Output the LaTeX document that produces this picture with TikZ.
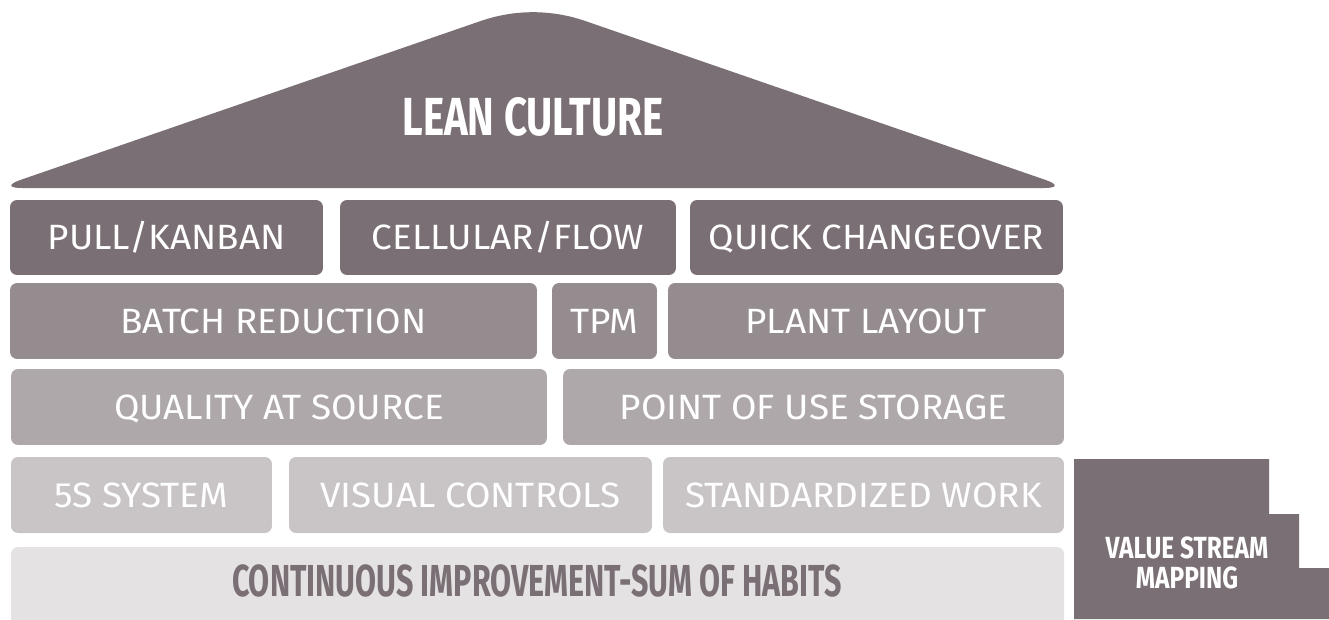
\documentclass[tikz,border=0pt]{standalone}
\usepackage{fontspec}
\setmainfont[FakeStretch=1.05]{Fira Sans}
\newfontfamily\headfont[FakeStretch=0.75]{Fira Sans}
\newfontfamily\stepfont[FakeStretch=0.8]{Fira Sans}
\newfontfamily\basefont[FakeStretch=0.68]{Fira Sans}
\definecolor{roofgray}{HTML}{7A6F74}
\definecolor{tiertwo}{HTML}{958C90}
\definecolor{tierthree}{HTML}{AEA8AA}
\definecolor{tierfour}{HTML}{C9C5C6}
\definecolor{tierbase}{HTML}{E4E2E3}
\begin{document}
\begin{tikzpicture}[
        x=0.02cm, y=-0.02cm,
        block/.style={rectangle, rounded corners=4pt, inner sep=0pt, text=white, minimum height=1.5cm,
            text height=13.8pt, text depth=0pt, font=\fontsize{20}{24}\selectfont},
        title/.style={inner sep=0pt, text=white, text height=21pt, text depth=0pt,
            font=\headfont\bfseries\fontsize{30.5}{36}\selectfont}
    ]
        \useasboundingbox (0,0) rectangle (1329,619);

        % roof
        \fill[roofgray] (22,188) .. controls (8.25,188) and (7.6,184.4) .. (20.6,179.9)
            -- (481,20.9) .. controls (514.8,9.3) and (551.2,9.3) .. (585,20.9)
            -- (1045.4,179.9) .. controls (1058.4,184.4) and (1057.75,188) .. (1044,188) -- cycle;
        \node[title] (lean) at (533,117) {LEAN CULTURE};

        % pillars, top to bottom
        \node[block, fill=roofgray, minimum width=6.26cm] (pull) at (166.5,237.5) {PULL/KANBAN};
        \node[block, fill=roofgray, minimum width=6.72cm] (cell) at (508,237.5) {CELLULAR/FLOW};
        \node[block, fill=roofgray, minimum width=7.46cm] (quick) at (876.5,237.5) {QUICK CHANGEOVER};

        \node[block, fill=tiertwo, minimum width=10.54cm, minimum height=1.52cm] (batch) at (273.5,321) {BATCH REDUCTION};
        \node[block, fill=tiertwo, minimum width=2.1cm, minimum height=1.52cm] (tpm) at (604.5,321) {TPM};
        \node[block, fill=tiertwo, minimum width=7.92cm, minimum height=1.52cm] (plant) at (866,321) {PLANT LAYOUT};

        \node[block, fill=tierthree, minimum width=10.72cm, minimum height=1.52cm] (quality) at (279,407) {QUALITY AT SOURCE};
        \node[block, fill=tierthree, minimum width=10.02cm, minimum height=1.52cm] (point) at (813.5,407) {POINT OF USE STORAGE};

        \node[block, fill=tierfour, minimum width=5.22cm, minimum height=1.52cm] (fives) at (141.5,495) {5S SYSTEM};
        \node[block, fill=tierfour, minimum width=7.26cm, minimum height=1.52cm] (visual) at (470.5,495) {VISUAL CONTROLS};
        \node[block, fill=tierfour, minimum width=8.02cm, minimum height=1.52cm] (standard) at (863.5,495) {STANDARDIZED WORK};

        % foundation
        \fill[tierbase, rounded corners=4pt] (11,547) rectangle (1064,640);
        \node[inner sep=0pt, text=roofgray, text height=17.6pt, text depth=0pt,
            font=\basefont\bfseries\fontsize{25.5}{30}\selectfont] (habits) at (537,581)
            {CONTINUOUS IMPROVEMENT-SUM OF HABITS};

        % steps
        \fill[roofgray] (1074,459) -- (1269,459) -- (1269,514) -- (1299,514) -- (1299,568)
            -- (1329,568) -- (1329,619) -- (1074,619) -- cycle;
        \node[inner sep=0pt, text=white, align=center, font=\stepfont\bfseries\fontsize{17.4}{17.5}\selectfont]
            (vsm) at (1187,563) {VALUE STREAM\\MAPPING};
    \end{tikzpicture}
\end{document}
